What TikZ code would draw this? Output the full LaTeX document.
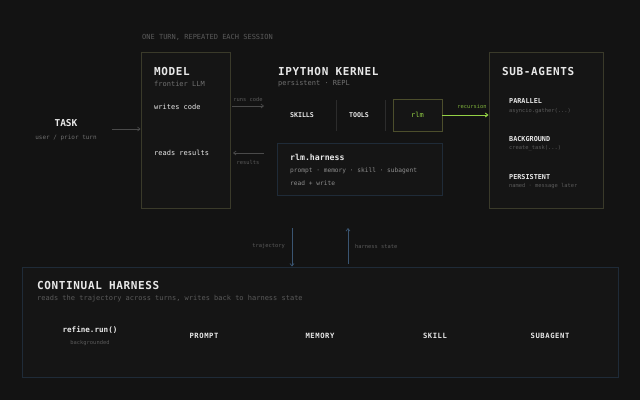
\documentclass[tikz,border=0pt]{standalone}
\usepackage{fontspec}
\setmainfont{DejaVu Sans Mono}
\usetikzlibrary{arrows.meta}
\definecolor{bg}{HTML}{131313}
\definecolor{boxfill}{HTML}{151515}
\definecolor{olive}{HTML}{3A3A2A}
\definecolor{oliveb}{HTML}{4C4E2C}
\definecolor{steel}{HTML}{1F2B38}
\definecolor{steelarrow}{HTML}{3A5572}
\definecolor{limeg}{HTML}{94D145}
\definecolor{txtw}{HTML}{E8E8E8}
\definecolor{txtg}{HTML}{707070}
\definecolor{txtd}{HTML}{5A5A5A}
\definecolor{arr}{HTML}{4A4A4A}
\definecolor{sepc}{HTML}{2C2C2C}
\tikzset{
  x=1pt,y=-1pt,
  ttl/.style={text=txtw,font=\fontsize{11}{12}\selectfont\bfseries\addfontfeature{LetterSpace=5.8},anchor=west,inner sep=0},
  subtx/.style={text=txtg,font=\fontsize{7}{8}\selectfont,anchor=west,inner sep=0},
  tinytx/.style={text=txtd,font=\fontsize{5.4}{6}\selectfont,inner sep=0},
  itm/.style={text=txtw,font=\fontsize{7}{8}\selectfont,anchor=west,inner sep=0},
  captx/.style={text=txtw,font=\fontsize{7.2}{8}\selectfont\bfseries\addfontfeature{LetterSpace=8},inner sep=0},
  obox/.style={draw=olive,fill=boxfill,line width=0.9pt,inner sep=0},
  sbox/.style={draw=steel,fill=boxfill,line width=0.9pt,inner sep=0},
  garrow/.style={draw=arr,line width=0.7pt,-{Straight Barb[length=2.5pt,width=4pt]}},
  varrow/.style={draw=steelarrow,line width=0.7pt,-{Straight Barb[length=2.5pt,width=4pt]}},
  larrow/.style={draw=limeg,line width=1pt,-{Straight Barb[length=2.5pt,width=4pt]}},
  seprule/.style={draw=sepc,line width=0.8pt},
}
\begin{document}
\begin{tikzpicture}
\fill[bg] (0,0) rectangle (640,400);
\useasboundingbox (0,0) rectangle (640,400);

% caption
\node[subtx,text=txtd] (caption) at (142,37) {ONE TURN, REPEATED EACH SESSION};

% TASK
\node[captx,font=\fontsize{9.5}{10}\selectfont\bfseries] (task) at (66,123) {TASK};
\node[tinytx,font=\fontsize{6}{7}\selectfont,text=txtg] (tasksub) at (66,138) {user / prior turn};

% MODEL box
\node[obox,minimum width=89pt,minimum height=156pt] (model) at (185.5,130) {};
\node[ttl] (modelt) at (154,71) {MODEL};
\node[subtx] (modelsub) at (154,84) {frontier LLM};
\node[itm] (writes) at (154,107) {writes code};
\node[itm] (reads) at (154,153) {reads results};

% task arrow
\coordinate (taskend) at (112,129);
\draw[garrow] (taskend) -- (model.west |- taskend);

% IPYTHON KERNEL
\node[ttl] (ipy) at (278,71) {IPYTHON KERNEL};
\node[subtx] (ipysub) at (278,84) {persistent · REPL};
\node[captx,font=\fontsize{6.6}{7}\selectfont\bfseries] (skills) at (302,115.5) {SKILLS};
\node[captx,font=\fontsize{6.6}{7}\selectfont\bfseries] (tools) at (359,115.5) {TOOLS};
\coordinate (s1a) at (336,100); \coordinate (s1b) at (336,131);
\coordinate (s2a) at (385,100); \coordinate (s2b) at (385,131);
\draw[seprule] (s1a) -- (s1b);
\draw[seprule] (s2a) -- (s2b);
\node[draw=oliveb,fill=boxfill,line width=0.9pt,minimum width=49pt,minimum height=32pt,inner sep=0] (rlm) at (417.5,115) {};
\node[text=limeg,font=\fontsize{7}{8}\selectfont,inner sep=0] (rlmt) at (rlm) {rlm};

% runs code / results arrows
\coordinate (rc1) at (232,106); \coordinate (rc2) at (264,106);
\draw[garrow] (rc1) -- (rc2);
\node[tinytx] (runslbl) at (248,99) {runs code};
\coordinate (rs1) at (264,153); \coordinate (rs2) at (233,153);
\draw[garrow] (rs1) -- (rs2);
\node[tinytx] (reslbl) at (248,162) {results};

% rlm.harness box
\node[sbox,minimum width=165pt,minimum height=52pt] (harness) at (359.5,169) {};
\node[itm,font=\fontsize{8.2}{9}\selectfont\bfseries] (harnesst) at (290,157) {rlm.harness};
\node[subtx,font=\fontsize{6.2}{7}\selectfont,text=txtg!80!white] (harnesssub) at (290,171) {prompt · memory · skill · subagent};
\node[subtx,font=\fontsize{6.2}{7}\selectfont,text=txtg!80!white] (harnessrw) at (290,183) {read + write};

% SUB-AGENTS box
\node[obox,minimum width=114pt,minimum height=156pt] (subag) at (546,130) {};
\node[ttl] (subt) at (502,71) {SUB-AGENTS};
\node[captx,anchor=west,font=\fontsize{6.8}{7}\selectfont\bfseries] (par) at (509,101) {PARALLEL};
\node[tinytx,anchor=west] (parsub) at (509,111) {asyncio.gather(...)};
\node[captx,anchor=west,font=\fontsize{6.8}{7}\selectfont\bfseries] (bgd) at (509,139) {BACKGROUND};
\node[tinytx,anchor=west] (bgdsub) at (509,148) {create\_task(...)};
\node[captx,anchor=west,font=\fontsize{6.8}{7}\selectfont\bfseries] (pers) at (509,177) {PERSISTENT};
\node[tinytx,anchor=west] (perssub) at (509,186) {named · message later};

% recursion arrow
\draw[larrow] (rlm.east) -- (rlm.east -| subag.west);
\node[text=limeg!85!black,font=\fontsize{5.4}{6}\selectfont,inner sep=0] (reclbl) at (472,106) {recursion};

% CONTINUAL HARNESS box
\node[sbox,minimum width=596pt,minimum height=110pt] (cont) at (320,322) {};
\node[ttl] (contt) at (37,285) {CONTINUAL HARNESS};
\node[subtx,text=txtd] (contsub) at (37,299) {reads the trajectory across turns, writes back to harness state};
\node[itm,anchor=center,font=\fontsize{7.6}{8}\selectfont\bfseries] (refine) at (90,330) {refine.run()};
\node[tinytx] (refsub) at (90,343) {backgrounded};
\node[captx] (cprompt) at (204,336) {PROMPT};
\node[captx] (cmem) at (320,336) {MEMORY};
\node[captx] (cskill) at (435,336) {SKILL};
\node[captx] (csub) at (550,336) {SUBAGENT};

% vertical arrows
\coordinate (trajtop) at (292,228);
\draw[varrow] (trajtop) -- (trajtop |- cont.north);
\node[tinytx,anchor=east] (trajlbl) at (285,246) {trajectory};
\coordinate (hstop) at (348,228);
\coordinate (hsbot) at (348,264);
\draw[varrow] (hsbot) -- (hstop);
\node[tinytx,anchor=west] (hslbl) at (355,246) {harness state};
\end{tikzpicture}
\end{document}
